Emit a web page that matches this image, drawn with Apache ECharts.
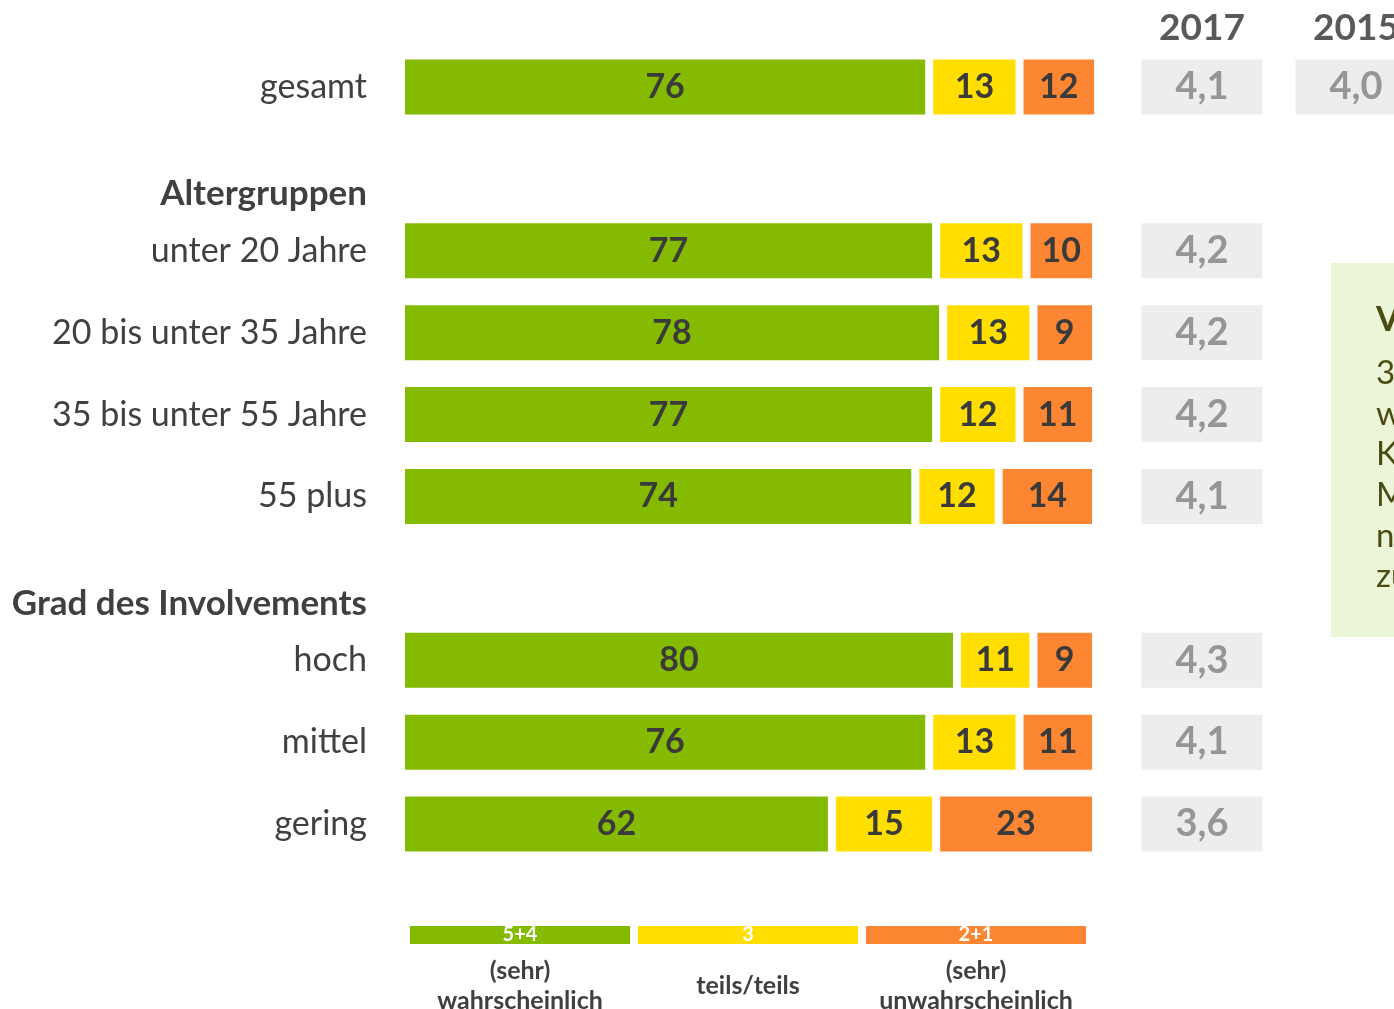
<!DOCTYPE html>
<html>
<head>
<meta charset="utf-8">
<script src="https://cdn.jsdelivr.net/npm/echarts@6/dist/echarts.min.js"></script>
<style>
  html, body { margin: 0; padding: 0; background: #fff; }
  #main { width: 1394px; height: 1009px; }
</style>
</head>
<body>
<div id="main"></div>
<script>
// rows (top to bottom); the two group headers take their own slot
var categories = ['gesamt', 'Altergruppen', 'unter 20 Jahre', '20 bis unter 35 Jahre', '35 bis unter 55 Jahre', '55 plus', 'Grad des Involvements', 'hoch', 'mittel', 'gering'];
var headers = ['Altergruppen', 'Grad des Involvements'];
var likely   = [76, '-', 77, 78, 77, 74, '-', 80, 76, 62];
var neutral  = [13, '-', 13, 13, 12, 12, '-', 11, 13, 15];
var unlikely = [12, '-', 10, 9, 11, 14, '-', 9, 11, 23];
var years = ['2017', '2015'];
var mean2017 = [4.1, '-', 4.2, 4.2, 4.2, 4.1, '-', 4.3, 4.1, 3.6];
var mean2015 = [4.0, '-', '-', '-', '-', '-', '-', '-', '-', '-'];
var legendKeys = ['5+4', '3', '2+1'];
var legendNames = ['(sehr)\nwahrscheinlich', 'teils/teils', '(sehr)\nunwahrscheinlich'];
var noteTitle = 'Verbleib';
var noteLines = ['3 von 4', 'würden', 'Kirchen-', 'Mitglied', 'nicht', 'zu'];

var FONT = 'Lato';
var GREEN = '#84bb00', YELLOW = '#ffde00', ORANGE = '#fc8632';
var colors = [GREEN, YELLOW, ORANGE];

function comma(v) { return v.toFixed(1).replace('.', ','); }

function barSeries(name, data, color) {
  return {
    name: name,
    type: 'bar',
    stack: 'all',
    xAxisIndex: 0, yAxisIndex: 0,
    barWidth: 63,
    clip: true,
    data: data,
    itemStyle: { color: color, borderColor: '#fff', borderWidth: 4 },
    label: {
      show: true, position: 'inside',
      fontFamily: FONT, fontSize: 34, fontWeight: 'bold', color: '#3a3a3a'
    },
    silent: true
  };
}

function meanSeries(year, data) {
  var pts = [];
  data.forEach(function (v, i) { if (v !== '-') pts.push([year, i, v]); });
  return {
    type: 'scatter',
    xAxisIndex: 1, yAxisIndex: 1,
    symbol: 'rect',
    symbolSize: [121, 55],
    itemStyle: { color: '#e9e9e9' },
    encode: { x: 0, y: 1 },
    label: {
      show: true, position: 'inside',
      formatter: function (p) { return comma(p.value[2]); },
      fontFamily: FONT, fontSize: 38, fontWeight: 'bold', color: '#808080'
    },
    data: pts,
    silent: true
  };
}

var graphics = [];
// side note panel, cut off by the right edge
graphics.push({
  type: 'rect', left: 1331, top: 263,
  shape: { width: 120, height: 374 },
  style: { fill: '#ebf5d7' }, silent: true
});
graphics.push({
  type: 'text', left: 1376, top: 303,
  style: { text: noteTitle, font: 'bold 34px ' + FONT, fill: '#4b4b12' }, silent: true
});
noteLines.forEach(function (t, i) {
  graphics.push({
    type: 'text', left: 1376, top: 357 + i * 40.6,
    style: { text: t, font: '33px ' + FONT, fill: '#4b4b12' }, silent: true
  });
});
// legend strip
var legX = [410, 638, 866];
legendKeys.forEach(function (k, i) {
  graphics.push({
    type: 'rect', left: legX[i], top: 926,
    shape: { width: 220, height: 18 },
    style: { fill: colors[i] }, silent: true
  });
  graphics.push({
    type: 'text', x: legX[i] + 110, y: 935,
    style: { text: k, font: 'bold 20px ' + FONT, fill: '#fff', align: 'center', verticalAlign: 'middle' }, silent: true
  });
  graphics.push({
    type: 'text', x: legX[i] + 110, y: 986,
    style: {
      text: legendNames[i], font: 'bold 25px ' + FONT, fill: '#404040',
      align: 'center', verticalAlign: 'middle', lineHeight: 30
    }, silent: true
  });
});

var option = {
  backgroundColor: '#fff',
  animation: false,
  grid: [
    { left: 401, right: 298, top: 46, bottom: 144, outerBoundsMode: 'none' },
    { left: 1202, width: 154, top: 46, bottom: 144, outerBoundsMode: 'none' }
  ],
  xAxis: [
    { type: 'value', gridIndex: 0, min: 0, max: 100, show: false },
    {
      type: 'category', gridIndex: 1, data: years, position: 'top', boundaryGap: false,
      axisLine: { show: false }, axisTick: { show: false }, splitLine: { show: false },
      axisLabel: { margin: -1, fontFamily: FONT, fontSize: 37, fontWeight: 'bold', color: '#595959' }
    }
  ],
  yAxis: [
    {
      type: 'category', gridIndex: 0, data: categories, inverse: true,
      axisLine: { show: false }, axisTick: { show: false }, splitLine: { show: false },
      axisLabel: {
        margin: 34, fontFamily: FONT, fontSize: 34, color: '#404040',
        formatter: function (v) { return headers.indexOf(v) >= 0 ? '{h|' + v + '}' : v; },
        rich: {
          h: { fontFamily: FONT, fontSize: 35, fontWeight: 'bold', color: '#404040', padding: [50, 0, 0, 0] }
        }
      }
    },
    { type: 'category', gridIndex: 1, data: categories, inverse: true, show: false }
  ],
  series: [
    barSeries('(sehr) wahrscheinlich', likely, GREEN),
    barSeries('teils/teils', neutral, YELLOW),
    barSeries('(sehr) unwahrscheinlich', unlikely, ORANGE),
    meanSeries('2017', mean2017),
    meanSeries('2015', mean2015)
  ],
  graphic: graphics
};

var myChart = echarts.init(document.getElementById('main'));
myChart.setOption(option);
</script>
</body>
</html>
